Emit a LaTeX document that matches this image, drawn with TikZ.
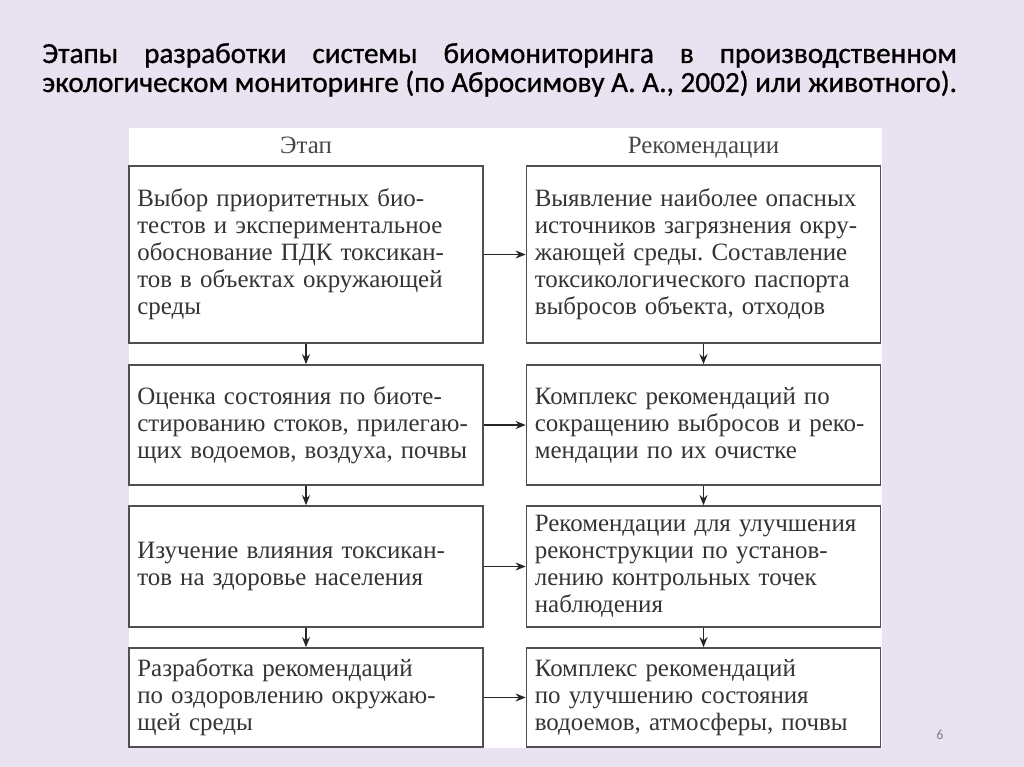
\documentclass[tikz,border=0pt]{standalone}
\usepackage{fontspec}
\setmainfont[WordSpace=1.3]{Liberation Serif}
\newfontfamily\titlefont[FakeBold=0.9]{Carlito}
\newfontfamily\numfont{Carlito}
\usetikzlibrary{arrows.meta}
\definecolor{slidebg}{RGB}{233,226,240}
\definecolor{inkgray}{RGB}{52,52,52}
\definecolor{framegray}{RGB}{80,80,80}
\frenchspacing
\tikzset{
  boxtext/.style={font=\fontsize{18.7}{20.25}\selectfont},
  stagebox/.style={boxtext,draw=framegray,line width=1.3pt,fill=white,text=inkgray,
    minimum width=265.5pt,text width=253pt,inner xsep=6.25pt,inner ysep=0pt,align=flush left},
  flow/.style={draw=black!85,line width=1.1pt,-{Stealth[length=7.5pt,width=6pt]}}
}
\begin{document}
\begin{tikzpicture}[x=0.75pt,y=-0.75pt]
	\fill [slidebg] (0,0) rectangle (1024,767);
	\fill [white] (129,128) rectangle (882,748);
	% title of the slide
	\node [anchor=base west,inner sep=0pt,text width=686pt,align=justify,
	  font=\titlefont\fontsize{21.9}{21.75}\selectfont] (title) at (42,63)
	  {Этапы разработки системы биомониторинга в производственном\linebreak экологическом мониторинге (по Абросимову А. А., 2002) или животного).};
	% column heads
	\node [boxtext,text=black!72,anchor=base] (stagehead) at (306,153) {Этап};
	\node [boxtext,text=black!72,anchor=base] (rechead) at (703.5,153) {Рекомендации};
	% left column
	\node [stagebox,minimum height=132.75pt] (s1) at (306,254.5)
	  {Выбор приоритетных био-\\тестов и экспериментальное\\обоснование ПДК токсикан-\\тов в объектах окружающей\\среды};
	\node [stagebox,minimum height=90pt] (s2) at (306,425)
	  {Оценка состояния по биоте-\\стированию стоков, прилегаю-\\щих водоемов, воздуха, почвы};
	\node [stagebox,minimum height=90.75pt] (s3) at (306,566.5)
	  {Изучение влияния токсикан-\\тов на здоровье населения};
	\node [stagebox,minimum height=74.25pt] (s4) at (306,697.5)
	  {Разработка рекомендаций\\по оздоровлению окружаю-\\щей среды};
	% right column
	\node [stagebox,minimum height=132.75pt] (r1) at (703.5,254.5)
	  {Выявление наиболее опасных\\источников загрязнения окру-\\жающей среды. Составление\\токсикологического паспорта\\выбросов объекта, отходов};
	\node [stagebox,minimum height=90pt] (r2) at (703.5,425)
	  {Комплекс рекомендаций по\\сокращению выбросов и реко-\\мендации по их очистке};
	\node [stagebox,minimum height=90.75pt] (r3) at (703.5,566.5)
	  {Рекомендации для улучшения\\реконструкции по установ-\\лению контрольных точек\\наблюдения};
	\node [stagebox,minimum height=74.25pt] (r4) at (703.5,697.5)
	  {Комплекс рекомендаций\\по улучшению состояния\\водоемов, атмосферы, почвы};
	% arrows
	\draw [flow] (s1) -- (s2);
	\draw [flow] (s2) -- (s3);
	\draw [flow] (s3) -- (s4);
	\draw [flow] (r1) -- (r2);
	\draw [flow] (r2) -- (r3);
	\draw [flow] (r3) -- (r4);
	\draw [flow] (s1) -- (r1);
	\draw [flow] (s2) -- (r2);
	\draw [flow] (s3) -- (r3);
	\draw [flow] (s4) -- (r4);
	\node [font=\numfont\fontsize{10.5}{12}\selectfont,text=black!50] (pagenum) at (940,735) {6};
\end{tikzpicture}
\end{document}
